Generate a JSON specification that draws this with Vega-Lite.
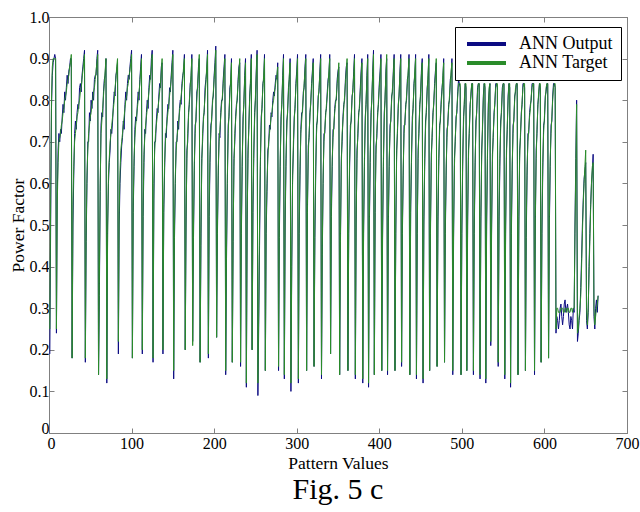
{
"$schema": "https://vega.github.io/schema/vega-lite/v6.json",
"width": 578, "height": 416,
"autosize": "none",
"padding": {"left": 49, "top": 17, "right": 13, "bottom": 79},
"background": "white",
"config": {
 "view": {"stroke": "#808080", "strokeWidth": 1},
 "font": "Times New Roman",
 "axis": {"labelFont": "Times New Roman", "titleFont": "Times New Roman", "labelColor": "black", "titleColor": "black", "titleFontWeight": "normal", "grid": false, "domainColor": "#808080", "tickColor": "#808080", "labelFontSize": 16, "titleFontSize": 17.5}
},
"title": {"text": "Fig. 5 c", "orient": "bottom", "fontSize": 30, "font": "Times New Roman", "fontWeight": "normal", "color": "black", "offset": 3},
"data": {"values": [
{"x":1,"o":0.19,"t":0.25},{"x":2,"o":0.5,"t":0.56},{"x":3,"o":0.78,"t":0.8},{"x":4,"o":0.86,"t":0.88},{"x":5,"o":0.89,"t":0.9},{"x":6,"o":0.9,"t":0.9},{"x":7,"o":0.91,"t":0.9},{"x":8,"o":0.9,"t":0.9},
{"x":9,"o":0.24,"t":0.25},{"x":10,"o":0.57,"t":0.55},{"x":11,"o":0.68,"t":0.65},{"x":12,"o":0.72,"t":0.7},{"x":13,"o":0.7,"t":0.71},{"x":14,"o":0.73,"t":0.72},{"x":15,"o":0.72,"t":0.74},{"x":16,"o":0.76,"t":0.75},{"x":17,"o":0.79,"t":0.77},{"x":18,"o":0.77,"t":0.78},{"x":19,"o":0.82,"t":0.8},{"x":20,"o":0.8,"t":0.81},{"x":21,"o":0.83,"t":0.82},{"x":22,"o":0.86,"t":0.84},{"x":23,"o":0.84,"t":0.85},{"x":24,"o":0.87,"t":0.86},{"x":25,"o":0.88,"t":0.88},{"x":26,"o":0.9,"t":0.89},{"x":27,"o":0.9,"t":0.91},
{"x":28,"o":0.18,"t":0.18},{"x":29,"o":0.5,"t":0.55},{"x":30,"o":0.62,"t":0.64},{"x":31,"o":0.72,"t":0.7},{"x":32,"o":0.75,"t":0.72},{"x":33,"o":0.73,"t":0.74},{"x":34,"o":0.77,"t":0.76},{"x":35,"o":0.79,"t":0.77},{"x":36,"o":0.78,"t":0.79},{"x":37,"o":0.83,"t":0.8},{"x":38,"o":0.84,"t":0.82},{"x":39,"o":0.82,"t":0.83},{"x":40,"o":0.86,"t":0.85},{"x":41,"o":0.88,"t":0.87},{"x":42,"o":0.9,"t":0.89},{"x":43,"o":0.92,"t":0.91},
{"x":44,"o":0.17,"t":0.18},{"x":45,"o":0.46,"t":0.48},{"x":46,"o":0.6,"t":0.62},{"x":47,"o":0.7,"t":0.68},{"x":48,"o":0.7,"t":0.72},{"x":49,"o":0.77,"t":0.74},{"x":50,"o":0.75,"t":0.76},{"x":51,"o":0.8,"t":0.77},{"x":52,"o":0.78,"t":0.79},{"x":53,"o":0.82,"t":0.8},{"x":54,"o":0.8,"t":0.82},{"x":55,"o":0.85,"t":0.83},{"x":56,"o":0.86,"t":0.85},{"x":57,"o":0.86,"t":0.87},{"x":58,"o":0.9,"t":0.89},{"x":59,"o":0.92,"t":0.91},
{"x":60,"o":0.14,"t":0.14},{"x":61,"o":0.33,"t":0.36},{"x":62,"o":0.58,"t":0.6},{"x":63,"o":0.74,"t":0.72},{"x":64,"o":0.77,"t":0.75},{"x":65,"o":0.76,"t":0.78},{"x":66,"o":0.82,"t":0.81},{"x":67,"o":0.85,"t":0.84},{"x":68,"o":0.86,"t":0.87},{"x":69,"o":0.9,"t":0.9},
{"x":70,"o":0.12,"t":0.13},{"x":71,"o":0.5,"t":0.48},{"x":72,"o":0.6,"t":0.62},{"x":73,"o":0.65,"t":0.66},{"x":74,"o":0.68,"t":0.7},{"x":75,"o":0.73,"t":0.72},{"x":76,"o":0.72,"t":0.74},{"x":77,"o":0.75,"t":0.76},{"x":78,"o":0.79,"t":0.78},{"x":79,"o":0.82,"t":0.8},{"x":80,"o":0.81,"t":0.83},{"x":81,"o":0.86,"t":0.85},{"x":82,"o":0.87,"t":0.88},{"x":83,"o":0.89,"t":0.9},
{"x":84,"o":0.19,"t":0.22},{"x":85,"o":0.5,"t":0.53},{"x":86,"o":0.6,"t":0.63},{"x":87,"o":0.65,"t":0.68},{"x":88,"o":0.69,"t":0.7},{"x":89,"o":0.71,"t":0.72},{"x":90,"o":0.75,"t":0.74},{"x":91,"o":0.73,"t":0.76},{"x":92,"o":0.79,"t":0.78},{"x":93,"o":0.82,"t":0.8},{"x":94,"o":0.8,"t":0.81},{"x":95,"o":0.84,"t":0.83},{"x":96,"o":0.86,"t":0.84},{"x":97,"o":0.85,"t":0.86},{"x":98,"o":0.88,"t":0.87},{"x":99,"o":0.9,"t":0.89},{"x":100,"o":0.92,"t":0.91},
{"x":101,"o":0.18,"t":0.18},{"x":102,"o":0.53,"t":0.55},{"x":103,"o":0.64,"t":0.66},{"x":104,"o":0.73,"t":0.71},{"x":105,"o":0.76,"t":0.74},{"x":106,"o":0.75,"t":0.76},{"x":107,"o":0.79,"t":0.78},{"x":108,"o":0.82,"t":0.8},{"x":109,"o":0.8,"t":0.82},{"x":110,"o":0.85,"t":0.84},{"x":111,"o":0.88,"t":0.87},{"x":112,"o":0.91,"t":0.9},
{"x":113,"o":0.19,"t":0.2},{"x":114,"o":0.52,"t":0.55},{"x":115,"o":0.65,"t":0.67},{"x":116,"o":0.73,"t":0.71},{"x":117,"o":0.72,"t":0.74},{"x":118,"o":0.77,"t":0.76},{"x":119,"o":0.8,"t":0.78},{"x":120,"o":0.78,"t":0.8},{"x":121,"o":0.83,"t":0.82},{"x":122,"o":0.86,"t":0.84},{"x":123,"o":0.85,"t":0.86},{"x":124,"o":0.9,"t":0.88},{"x":125,"o":0.92,"t":0.91},
{"x":126,"o":0.17,"t":0.18},{"x":127,"o":0.56,"t":0.6},{"x":128,"o":0.7,"t":0.68},{"x":129,"o":0.7,"t":0.72},{"x":130,"o":0.75,"t":0.74},{"x":131,"o":0.78,"t":0.76},{"x":132,"o":0.77,"t":0.78},{"x":133,"o":0.81,"t":0.8},{"x":134,"o":0.84,"t":0.82},{"x":135,"o":0.83,"t":0.84},{"x":136,"o":0.88,"t":0.87},{"x":137,"o":0.89,"t":0.9},
{"x":138,"o":0.19,"t":0.2},{"x":139,"o":0.53,"t":0.55},{"x":140,"o":0.63,"t":0.65},{"x":141,"o":0.72,"t":0.7},{"x":142,"o":0.71,"t":0.73},{"x":143,"o":0.76,"t":0.75},{"x":144,"o":0.79,"t":0.77},{"x":145,"o":0.78,"t":0.79},{"x":146,"o":0.83,"t":0.81},{"x":147,"o":0.82,"t":0.83},{"x":148,"o":0.86,"t":0.85},{"x":149,"o":0.89,"t":0.88},{"x":150,"o":0.92,"t":0.91},
{"x":151,"o":0.13,"t":0.15},{"x":152,"o":0.47,"t":0.5},{"x":153,"o":0.6,"t":0.62},{"x":154,"o":0.7,"t":0.68},{"x":155,"o":0.7,"t":0.71},{"x":156,"o":0.75,"t":0.73},{"x":157,"o":0.73,"t":0.75},{"x":158,"o":0.78,"t":0.77},{"x":159,"o":0.8,"t":0.79},{"x":160,"o":0.79,"t":0.81},{"x":161,"o":0.84,"t":0.83},{"x":162,"o":0.86,"t":0.85},{"x":163,"o":0.87,"t":0.88},{"x":164,"o":0.91,"t":0.9},
{"x":165,"o":0.2,"t":0.2},{"x":166,"o":0.5,"t":0.52},{"x":167,"o":0.68,"t":0.66},{"x":168,"o":0.7,"t":0.72},{"x":169,"o":0.77,"t":0.76},{"x":170,"o":0.79,"t":0.8},{"x":171,"o":0.84,"t":0.83},{"x":172,"o":0.85,"t":0.86},{"x":173,"o":0.91,"t":0.9},
{"x":174,"o":0.22,"t":0.21},{"x":175,"o":0.47,"t":0.5},{"x":176,"o":0.63,"t":0.65},{"x":177,"o":0.74,"t":0.72},{"x":178,"o":0.75,"t":0.76},{"x":179,"o":0.82,"t":0.8},{"x":180,"o":0.83,"t":0.84},{"x":181,"o":0.88,"t":0.87},{"x":182,"o":0.9,"t":0.91},
{"x":183,"o":0.17,"t":0.17},{"x":184,"o":0.45,"t":0.48},{"x":185,"o":0.66,"t":0.64},{"x":186,"o":0.7,"t":0.72},{"x":187,"o":0.76,"t":0.75},{"x":188,"o":0.77,"t":0.78},{"x":189,"o":0.83,"t":0.81},{"x":190,"o":0.85,"t":0.84},{"x":191,"o":0.87,"t":0.88},{"x":192,"o":0.92,"t":0.91},
{"x":193,"o":0.18,"t":0.19},{"x":194,"o":0.52,"t":0.55},{"x":195,"o":0.65,"t":0.67},{"x":196,"o":0.74,"t":0.72},{"x":197,"o":0.75,"t":0.76},{"x":198,"o":0.8,"t":0.79},{"x":199,"o":0.81,"t":0.82},{"x":200,"o":0.86,"t":0.85},{"x":201,"o":0.89,"t":0.88},{"x":202,"o":0.93,"t":0.92},
{"x":203,"o":0.23,"t":0.23},{"x":204,"o":0.48,"t":0.5},{"x":205,"o":0.62,"t":0.64},{"x":206,"o":0.72,"t":0.7},{"x":207,"o":0.71,"t":0.73},{"x":208,"o":0.77,"t":0.76},{"x":209,"o":0.8,"t":0.79},{"x":210,"o":0.8,"t":0.81},{"x":211,"o":0.85,"t":0.84},{"x":212,"o":0.88,"t":0.87},{"x":213,"o":0.91,"t":0.9},
{"x":214,"o":0.14,"t":0.15},{"x":215,"o":0.42,"t":0.45},{"x":216,"o":0.6,"t":0.62},{"x":217,"o":0.74,"t":0.72},{"x":218,"o":0.76,"t":0.77},{"x":219,"o":0.83,"t":0.81},{"x":220,"o":0.84,"t":0.85},{"x":221,"o":0.9,"t":0.89},
{"x":222,"o":0.17,"t":0.17},{"x":223,"o":0.46,"t":0.48},{"x":224,"o":0.66,"t":0.64},{"x":225,"o":0.7,"t":0.72},{"x":226,"o":0.76,"t":0.75},{"x":227,"o":0.79,"t":0.78},{"x":228,"o":0.8,"t":0.81},{"x":229,"o":0.85,"t":0.84},{"x":230,"o":0.88,"t":0.87},{"x":231,"o":0.89,"t":0.9},
{"x":232,"o":0.16,"t":0.17},{"x":233,"o":0.48,"t":0.5},{"x":234,"o":0.64,"t":0.66},{"x":235,"o":0.76,"t":0.74},{"x":236,"o":0.79,"t":0.8},{"x":237,"o":0.86,"t":0.85},{"x":238,"o":0.9,"t":0.89},
{"x":239,"o":0.11,"t":0.12},{"x":240,"o":0.5,"t":0.52},{"x":241,"o":0.68,"t":0.66},{"x":242,"o":0.73,"t":0.74},{"x":243,"o":0.81,"t":0.8},{"x":244,"o":0.84,"t":0.85},{"x":245,"o":0.91,"t":0.9},
{"x":246,"o":0.2,"t":0.2},{"x":247,"o":0.53,"t":0.55},{"x":248,"o":0.66,"t":0.68},{"x":249,"o":0.77,"t":0.75},{"x":250,"o":0.8,"t":0.81},{"x":251,"o":0.87,"t":0.86},{"x":252,"o":0.92,"t":0.91},
{"x":253,"o":0.09,"t":0.12},{"x":254,"o":0.26,"t":0.3},{"x":255,"o":0.45,"t":0.5},{"x":256,"o":0.64,"t":0.66},{"x":257,"o":0.76,"t":0.74},{"x":258,"o":0.78,"t":0.79},{"x":259,"o":0.84,"t":0.83},{"x":260,"o":0.85,"t":0.86},{"x":261,"o":0.91,"t":0.9},
{"x":262,"o":0.15,"t":0.15},{"x":263,"o":0.48,"t":0.5},{"x":264,"o":0.58,"t":0.6},{"x":265,"o":0.68,"t":0.66},{"x":266,"o":0.69,"t":0.7},{"x":267,"o":0.74,"t":0.72},{"x":268,"o":0.73,"t":0.74},{"x":269,"o":0.77,"t":0.76},{"x":270,"o":0.76,"t":0.77},{"x":271,"o":0.8,"t":0.79},{"x":272,"o":0.82,"t":0.8},{"x":273,"o":0.81,"t":0.82},{"x":274,"o":0.84,"t":0.83},{"x":275,"o":0.86,"t":0.85},{"x":276,"o":0.85,"t":0.86},{"x":277,"o":0.89,"t":0.88},
{"x":278,"o":0.15,"t":0.16},{"x":279,"o":0.47,"t":0.5},{"x":280,"o":0.64,"t":0.66},{"x":281,"o":0.76,"t":0.74},{"x":282,"o":0.79,"t":0.8},{"x":283,"o":0.86,"t":0.85},{"x":284,"o":0.91,"t":0.9},
{"x":285,"o":0.13,"t":0.14},{"x":286,"o":0.5,"t":0.52},{"x":287,"o":0.64,"t":0.66},{"x":288,"o":0.75,"t":0.73},{"x":289,"o":0.77,"t":0.78},{"x":290,"o":0.83,"t":0.82},{"x":291,"o":0.85,"t":0.86},{"x":292,"o":0.9,"t":0.89},
{"x":293,"o":0.1,"t":0.12},{"x":294,"o":0.4,"t":0.42},{"x":295,"o":0.62,"t":0.6},{"x":296,"o":0.68,"t":0.7},{"x":297,"o":0.76,"t":0.75},{"x":298,"o":0.78,"t":0.79},{"x":299,"o":0.84,"t":0.83},{"x":300,"o":0.87,"t":0.86},{"x":301,"o":0.91,"t":0.9},
{"x":302,"o":0.12,"t":0.13},{"x":303,"o":0.48,"t":0.5},{"x":304,"o":0.62,"t":0.64},{"x":305,"o":0.73,"t":0.72},{"x":306,"o":0.77,"t":0.75},{"x":307,"o":0.77,"t":0.78},{"x":308,"o":0.82,"t":0.81},{"x":309,"o":0.83,"t":0.84},{"x":310,"o":0.88,"t":0.87},{"x":311,"o":0.91,"t":0.9},
{"x":312,"o":0.15,"t":0.15},{"x":313,"o":0.53,"t":0.55},{"x":314,"o":0.69,"t":0.67},{"x":315,"o":0.71,"t":0.72},{"x":316,"o":0.77,"t":0.76},{"x":317,"o":0.79,"t":0.8},{"x":318,"o":0.84,"t":0.83},{"x":319,"o":0.87,"t":0.86},{"x":320,"o":0.9,"t":0.89},
{"x":321,"o":0.16,"t":0.16},{"x":322,"o":0.47,"t":0.5},{"x":323,"o":0.62,"t":0.64},{"x":324,"o":0.74,"t":0.72},{"x":325,"o":0.75,"t":0.76},{"x":326,"o":0.81,"t":0.8},{"x":327,"o":0.82,"t":0.83},{"x":328,"o":0.87,"t":0.86},{"x":329,"o":0.91,"t":0.9},
{"x":330,"o":0.13,"t":0.14},{"x":331,"o":0.43,"t":0.45},{"x":332,"o":0.6,"t":0.62},{"x":333,"o":0.72,"t":0.7},{"x":334,"o":0.72,"t":0.73},{"x":335,"o":0.77,"t":0.76},{"x":336,"o":0.78,"t":0.79},{"x":337,"o":0.82,"t":0.81},{"x":338,"o":0.85,"t":0.84},{"x":339,"o":0.86,"t":0.87},{"x":340,"o":0.91,"t":0.9},
{"x":341,"o":0.19,"t":0.19},{"x":342,"o":0.52,"t":0.55},{"x":343,"o":0.64,"t":0.66},{"x":344,"o":0.73,"t":0.71},{"x":345,"o":0.73,"t":0.74},{"x":346,"o":0.78,"t":0.77},{"x":347,"o":0.8,"t":0.79},{"x":348,"o":0.8,"t":0.81},{"x":349,"o":0.85,"t":0.84},{"x":350,"o":0.87,"t":0.86},{"x":351,"o":0.88,"t":0.89},
{"x":352,"o":0.14,"t":0.14},{"x":353,"o":0.46,"t":0.48},{"x":354,"o":0.66,"t":0.64},{"x":355,"o":0.7,"t":0.72},{"x":356,"o":0.76,"t":0.75},{"x":357,"o":0.79,"t":0.78},{"x":358,"o":0.8,"t":0.81},{"x":359,"o":0.85,"t":0.84},{"x":360,"o":0.88,"t":0.87},{"x":361,"o":0.89,"t":0.9},
{"x":362,"o":0.15,"t":0.15},{"x":363,"o":0.48,"t":0.5},{"x":364,"o":0.63,"t":0.65},{"x":365,"o":0.74,"t":0.72},{"x":366,"o":0.75,"t":0.76},{"x":367,"o":0.81,"t":0.8},{"x":368,"o":0.82,"t":0.83},{"x":369,"o":0.87,"t":0.86},{"x":370,"o":0.91,"t":0.9},
{"x":371,"o":0.13,"t":0.14},{"x":372,"o":0.5,"t":0.52},{"x":373,"o":0.68,"t":0.66},{"x":374,"o":0.71,"t":0.72},{"x":375,"o":0.77,"t":0.76},{"x":376,"o":0.78,"t":0.79},{"x":377,"o":0.83,"t":0.82},{"x":378,"o":0.87,"t":0.86},{"x":379,"o":0.9,"t":0.89},
{"x":380,"o":0.12,"t":0.13},{"x":381,"o":0.48,"t":0.5},{"x":382,"o":0.64,"t":0.66},{"x":383,"o":0.76,"t":0.74},{"x":384,"o":0.79,"t":0.8},{"x":385,"o":0.86,"t":0.85},{"x":386,"o":0.91,"t":0.9},
{"x":387,"o":0.11,"t":0.12},{"x":388,"o":0.5,"t":0.52},{"x":389,"o":0.65,"t":0.67},{"x":390,"o":0.77,"t":0.75},{"x":391,"o":0.8,"t":0.81},{"x":392,"o":0.87,"t":0.86},{"x":393,"o":0.92,"t":0.91},
{"x":394,"o":0.14,"t":0.14},{"x":395,"o":0.53,"t":0.55},{"x":396,"o":0.69,"t":0.67},{"x":397,"o":0.71,"t":0.72},{"x":398,"o":0.77,"t":0.76},{"x":399,"o":0.79,"t":0.8},{"x":400,"o":0.84,"t":0.83},{"x":401,"o":0.87,"t":0.86},{"x":402,"o":0.91,"t":0.9},
{"x":403,"o":0.15,"t":0.15},{"x":404,"o":0.47,"t":0.5},{"x":405,"o":0.64,"t":0.66},{"x":406,"o":0.77,"t":0.75},{"x":407,"o":0.8,"t":0.81},{"x":408,"o":0.87,"t":0.86},{"x":409,"o":0.9,"t":0.91},
{"x":410,"o":0.14,"t":0.15},{"x":411,"o":0.5,"t":0.52},{"x":412,"o":0.64,"t":0.66},{"x":413,"o":0.74,"t":0.72},{"x":414,"o":0.75,"t":0.76},{"x":415,"o":0.81,"t":0.8},{"x":416,"o":0.82,"t":0.83},{"x":417,"o":0.87,"t":0.86},{"x":418,"o":0.91,"t":0.9},
{"x":419,"o":0.15,"t":0.15},{"x":420,"o":0.48,"t":0.5},{"x":421,"o":0.68,"t":0.66},{"x":422,"o":0.72,"t":0.73},{"x":423,"o":0.79,"t":0.78},{"x":424,"o":0.81,"t":0.82},{"x":425,"o":0.87,"t":0.86},{"x":426,"o":0.91,"t":0.9},
{"x":427,"o":0.16,"t":0.17},{"x":428,"o":0.48,"t":0.5},{"x":429,"o":0.62,"t":0.64},{"x":430,"o":0.74,"t":0.72},{"x":431,"o":0.74,"t":0.75},{"x":432,"o":0.79,"t":0.78},{"x":433,"o":0.8,"t":0.81},{"x":434,"o":0.85,"t":0.84},{"x":435,"o":0.86,"t":0.87},{"x":436,"o":0.91,"t":0.9},
{"x":437,"o":0.14,"t":0.14},{"x":438,"o":0.53,"t":0.55},{"x":439,"o":0.65,"t":0.67},{"x":440,"o":0.76,"t":0.74},{"x":441,"o":0.78,"t":0.79},{"x":442,"o":0.84,"t":0.83},{"x":443,"o":0.86,"t":0.87},{"x":444,"o":0.91,"t":0.9},
{"x":445,"o":0.13,"t":0.14},{"x":446,"o":0.48,"t":0.5},{"x":447,"o":0.68,"t":0.66},{"x":448,"o":0.72,"t":0.73},{"x":449,"o":0.79,"t":0.78},{"x":450,"o":0.81,"t":0.82},{"x":451,"o":0.87,"t":0.86},{"x":452,"o":0.9,"t":0.89},
{"x":453,"o":0.12,"t":0.13},{"x":454,"o":0.5,"t":0.52},{"x":455,"o":0.64,"t":0.66},{"x":456,"o":0.75,"t":0.73},{"x":457,"o":0.77,"t":0.78},{"x":458,"o":0.83,"t":0.82},{"x":459,"o":0.85,"t":0.86},{"x":460,"o":0.91,"t":0.9},
{"x":461,"o":0.15,"t":0.15},{"x":462,"o":0.48,"t":0.5},{"x":463,"o":0.67,"t":0.65},{"x":464,"o":0.71,"t":0.72},{"x":465,"o":0.77,"t":0.76},{"x":466,"o":0.79,"t":0.8},{"x":467,"o":0.84,"t":0.83},{"x":468,"o":0.87,"t":0.86},{"x":469,"o":0.89,"t":0.9},
{"x":470,"o":0.16,"t":0.16},{"x":471,"o":0.5,"t":0.52},{"x":472,"o":0.64,"t":0.66},{"x":473,"o":0.74,"t":0.72},{"x":474,"o":0.75,"t":0.76},{"x":475,"o":0.8,"t":0.79},{"x":476,"o":0.83,"t":0.82},{"x":477,"o":0.85,"t":0.86},{"x":478,"o":0.9,"t":0.89},
{"x":479,"o":0.17,"t":0.17},{"x":480,"o":0.48,"t":0.5},{"x":481,"o":0.62,"t":0.64},{"x":482,"o":0.73,"t":0.71},{"x":483,"o":0.74,"t":0.75},{"x":484,"o":0.79,"t":0.78},{"x":485,"o":0.8,"t":0.81},{"x":486,"o":0.85,"t":0.84},{"x":487,"o":0.86,"t":0.87},{"x":488,"o":0.9,"t":0.89},
{"x":489,"o":0.14,"t":0.15},{"x":490,"o":0.47,"t":0.5},{"x":491,"o":0.66,"t":0.64},{"x":492,"o":0.7,"t":0.71},{"x":493,"o":0.76,"t":0.75},{"x":494,"o":0.77,"t":0.78},{"x":495,"o":0.82,"t":0.81},{"x":496,"o":0.85,"t":0.84},{"x":497,"o":0.84,"t":0.84},{"x":498,"o":0.83,"t":0.84},
{"x":499,"o":0.14,"t":0.14},{"x":500,"o":0.48,"t":0.5},{"x":501,"o":0.64,"t":0.66},{"x":502,"o":0.76,"t":0.74},{"x":503,"o":0.79,"t":0.8},{"x":504,"o":0.84,"t":0.84},{"x":505,"o":0.83,"t":0.84},
{"x":506,"o":0.15,"t":0.15},{"x":507,"o":0.5,"t":0.52},{"x":508,"o":0.68,"t":0.66},{"x":509,"o":0.72,"t":0.73},{"x":510,"o":0.79,"t":0.78},{"x":511,"o":0.81,"t":0.82},{"x":512,"o":0.84,"t":0.84},{"x":513,"o":0.84,"t":0.84},
{"x":514,"o":0.14,"t":0.15},{"x":515,"o":0.48,"t":0.5},{"x":516,"o":0.63,"t":0.65},{"x":517,"o":0.75,"t":0.73},{"x":518,"o":0.77,"t":0.78},{"x":519,"o":0.83,"t":0.82},{"x":520,"o":0.84,"t":0.84},{"x":521,"o":0.84,"t":0.84},
{"x":522,"o":0.13,"t":0.14},{"x":523,"o":0.5,"t":0.52},{"x":524,"o":0.68,"t":0.66},{"x":525,"o":0.73,"t":0.74},{"x":526,"o":0.81,"t":0.8},{"x":527,"o":0.84,"t":0.84},{"x":528,"o":0.83,"t":0.84},
{"x":529,"o":0.12,"t":0.13},{"x":530,"o":0.5,"t":0.52},{"x":531,"o":0.66,"t":0.68},{"x":532,"o":0.79,"t":0.77},{"x":533,"o":0.82,"t":0.83},{"x":534,"o":0.84,"t":0.84},
{"x":535,"o":0.21,"t":0.22},{"x":536,"o":0.48,"t":0.5},{"x":537,"o":0.67,"t":0.65},{"x":538,"o":0.71,"t":0.72},{"x":539,"o":0.77,"t":0.76},{"x":540,"o":0.79,"t":0.8},{"x":541,"o":0.84,"t":0.83},{"x":542,"o":0.84,"t":0.84},{"x":543,"o":0.83,"t":0.84},
{"x":544,"o":0.16,"t":0.17},{"x":545,"o":0.5,"t":0.52},{"x":546,"o":0.64,"t":0.66},{"x":547,"o":0.75,"t":0.73},{"x":548,"o":0.77,"t":0.78},{"x":549,"o":0.83,"t":0.82},{"x":550,"o":0.84,"t":0.84},{"x":551,"o":0.84,"t":0.84},
{"x":552,"o":0.13,"t":0.14},{"x":553,"o":0.48,"t":0.5},{"x":554,"o":0.68,"t":0.66},{"x":555,"o":0.73,"t":0.74},{"x":556,"o":0.81,"t":0.8},{"x":557,"o":0.84,"t":0.84},{"x":558,"o":0.83,"t":0.84},
{"x":559,"o":0.11,"t":0.12},{"x":560,"o":0.48,"t":0.5},{"x":561,"o":0.63,"t":0.65},{"x":562,"o":0.74,"t":0.72},{"x":563,"o":0.75,"t":0.76},{"x":564,"o":0.81,"t":0.8},{"x":565,"o":0.82,"t":0.83},{"x":566,"o":0.84,"t":0.84},{"x":567,"o":0.84,"t":0.84},
{"x":568,"o":0.14,"t":0.14},{"x":569,"o":0.5,"t":0.52},{"x":570,"o":0.68,"t":0.66},{"x":571,"o":0.71,"t":0.72},{"x":572,"o":0.77,"t":0.76},{"x":573,"o":0.79,"t":0.8},{"x":574,"o":0.84,"t":0.83},{"x":575,"o":0.84,"t":0.84},{"x":576,"o":0.83,"t":0.84},
{"x":577,"o":0.15,"t":0.15},{"x":578,"o":0.47,"t":0.5},{"x":579,"o":0.62,"t":0.64},{"x":580,"o":0.72,"t":0.7},{"x":581,"o":0.72,"t":0.73},{"x":582,"o":0.77,"t":0.76},{"x":583,"o":0.79,"t":0.78},{"x":584,"o":0.8,"t":0.81},{"x":585,"o":0.84,"t":0.83},{"x":586,"o":0.84,"t":0.84},{"x":587,"o":0.84,"t":0.84},
{"x":588,"o":0.14,"t":0.15},{"x":589,"o":0.5,"t":0.52},{"x":590,"o":0.68,"t":0.66},{"x":591,"o":0.72,"t":0.73},{"x":592,"o":0.79,"t":0.78},{"x":593,"o":0.81,"t":0.82},{"x":594,"o":0.84,"t":0.84},{"x":595,"o":0.83,"t":0.84},
{"x":596,"o":0.17,"t":0.17},{"x":597,"o":0.48,"t":0.5},{"x":598,"o":0.63,"t":0.65},{"x":599,"o":0.74,"t":0.72},{"x":600,"o":0.75,"t":0.76},{"x":601,"o":0.81,"t":0.8},{"x":602,"o":0.82,"t":0.83},{"x":603,"o":0.84,"t":0.84},{"x":604,"o":0.84,"t":0.84},
{"x":605,"o":0.18,"t":0.18},{"x":606,"o":0.5,"t":0.52},{"x":607,"o":0.64,"t":0.66},{"x":608,"o":0.74,"t":0.72},{"x":609,"o":0.75,"t":0.76},{"x":610,"o":0.81,"t":0.8},{"x":611,"o":0.84,"t":0.83},{"x":612,"o":0.84,"t":0.84},{"x":613,"o":0.83,"t":0.84},
{"x":614,"o":0.24,"t":0.25},{"x":615,"o":0.28,"t":0.3},{"x":616,"o":0.27,"t":0.3},{"x":617,"o":0.25,"t":0.29},{"x":618,"o":0.27,"t":0.29},{"x":619,"o":0.3,"t":0.29},{"x":620,"o":0.31,"t":0.3},{"x":621,"o":0.28,"t":0.3},{"x":622,"o":0.26,"t":0.3},{"x":623,"o":0.28,"t":0.29},{"x":624,"o":0.31,"t":0.29},{"x":625,"o":0.32,"t":0.3},{"x":626,"o":0.29,"t":0.3},{"x":627,"o":0.3,"t":0.29},{"x":628,"o":0.31,"t":0.3},{"x":629,"o":0.29,"t":0.3},{"x":630,"o":0.26,"t":0.29},{"x":631,"o":0.25,"t":0.29},{"x":632,"o":0.28,"t":0.3},{"x":633,"o":0.27,"t":0.3},{"x":634,"o":0.25,"t":0.29},{"x":635,"o":0.3,"t":0.3},{"x":636,"o":0.29,"t":0.3},
{"x":637,"o":0.5,"t":0.48},{"x":638,"o":0.66,"t":0.64},{"x":639,"o":0.8,"t":0.79},{"x":640,"o":0.22,"t":0.24},{"x":641,"o":0.24,"t":0.25},{"x":642,"o":0.27,"t":0.28},{"x":643,"o":0.29,"t":0.3},{"x":644,"o":0.35,"t":0.33},{"x":645,"o":0.42,"t":0.4},{"x":646,"o":0.5,"t":0.48},{"x":647,"o":0.56,"t":0.55},{"x":648,"o":0.61,"t":0.6},{"x":649,"o":0.63,"t":0.64},{"x":650,"o":0.65,"t":0.68},
{"x":651,"o":0.27,"t":0.3},{"x":652,"o":0.25,"t":0.26},{"x":653,"o":0.29,"t":0.3},{"x":654,"o":0.4,"t":0.38},{"x":655,"o":0.48,"t":0.46},{"x":656,"o":0.55,"t":0.54},{"x":657,"o":0.6,"t":0.6},{"x":658,"o":0.63,"t":0.64},{"x":659,"o":0.67,"t":0.65},
{"x":660,"o":0.28,"t":0.3},{"x":661,"o":0.25,"t":0.26},{"x":662,"o":0.3,"t":0.28},{"x":663,"o":0.32,"t":0.3},{"x":664,"o":0.29,"t":0.31},{"x":665,"o":0.33,"t":0.33}
]},
"layer": [
 {
  "transform": [{"fold": ["o", "t"], "as": ["s", "v"]}],
  "mark": {"type": "line", "strokeWidth": 1, "clip": true},
  "encoding": {
   "x": {"field": "x", "type": "quantitative", "scale": {"domain": [0, 700], "nice": false, "zero": false},
    "axis": {"values": [0,100,200,300,400,500,600,700], "labelOffset": {"condition": {"test": "datum.value == 0", "value": 2}, "value": 0}, "tickSize": -5, "labelPadding": 7, "title": "Pattern Values", "titlePadding": 3, "labelFlush": false}},
   "y": {"field": "v", "type": "quantitative", "scale": {"domain": [0, 1], "nice": false},
    "axis": {"values": [0,0.1,0.2,0.3,0.4,0.5,0.6,0.7,0.8,0.9,1], "labelExpr": "datum.value == 0 ? '0' : format(datum.value, '.1f')", "labelOffset": {"condition": {"test": "datum.value == 0", "value": -5}, "value": 0}, "tickSize": -5, "labelPadding": 5, "title": "Power Factor", "titlePadding": 2, "labelFlush": false}},
   "color": {"field": "s", "type": "nominal", "scale": {"domain": ["o", "t"], "range": ["#0b0b82", "#2a8c2a"]},
    "legend": {"orient": "none", "legendX": 406, "legendY": 10, "title": null, "fillColor": "white", "strokeColor": "black", "padding": 8, "symbolType": "M-1,0H6.8", "symbolSize": 100, "symbolStrokeWidth": 4, "labelFont": "Times New Roman", "labelFontSize": 18, "labelColor": "black", "labelOffset": 38, "rowPadding": 1, "labelExpr": "datum.value == 'o' ? 'ANN Output' : 'ANN Target'"}}
  }
 },
 {
  "data": {"values": [{"x": 0, "v": 0}]},
  "mark": {"type": "point", "opacity": 0},
  "encoding": {
   "x": {"field": "x", "type": "quantitative", "scale": {"domain": [0, 700], "nice": false},
    "axis": {"orient": "top", "values": [0,100,200,300,400,500,600,700], "labels": false, "title": null, "tickSize": -5}},
   "y": {"field": "v", "type": "quantitative", "scale": {"domain": [0, 1], "nice": false},
    "axis": {"orient": "right", "values": [0,0.1,0.2,0.3,0.4,0.5,0.6,0.7,0.8,0.9,1], "labels": false, "title": null, "tickSize": -5}}
  }
 }
],
"resolve": {"axis": {"x": "independent", "y": "independent"}}
}
